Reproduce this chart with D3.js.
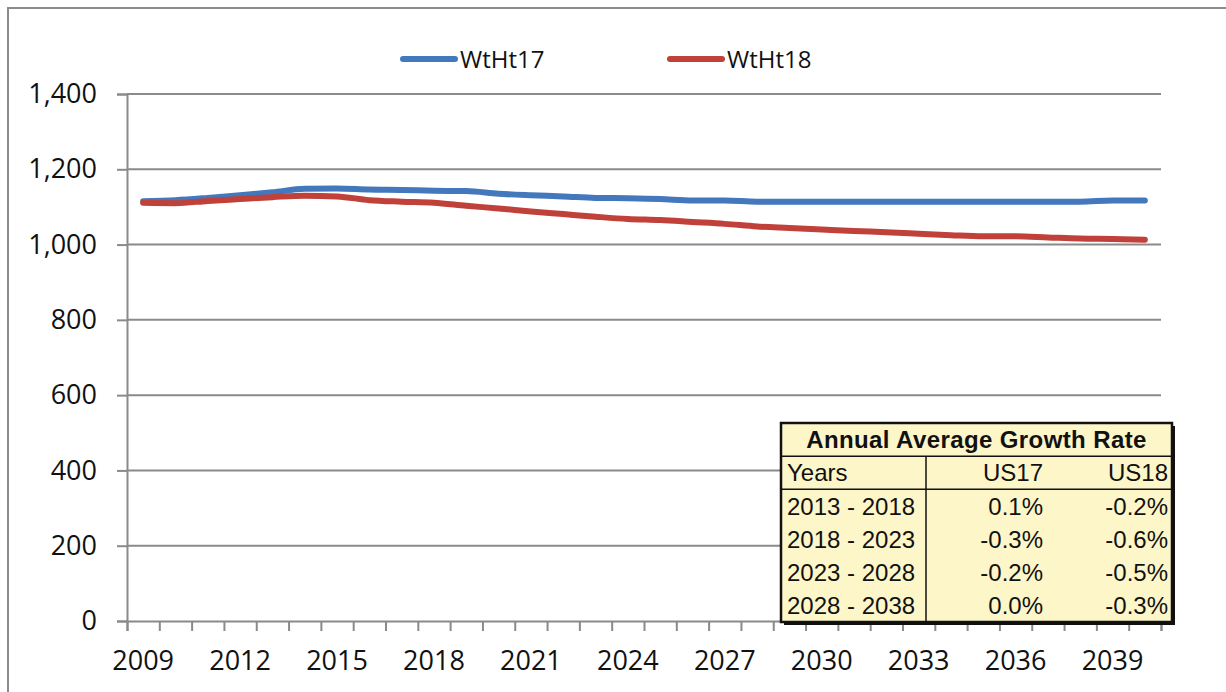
<!DOCTYPE html>
<html>
<head>
<meta charset="utf-8">
<script src="https://cdnjs.cloudflare.com/ajax/libs/d3/7.8.5/d3.min.js"></script>
<style>
  body { margin:0; background:#fff; }
  svg { display:block; }
</style>
</head>
<body>
<div id="chart-area"></div>
<script>
// data
var years = d3.range(2009, 2041);
var wtht17 = [1115,1118,1124,1131,1139,1148,1149,1146,1145,1143,1142,1135,1131,1128,1124,1123,
              1121,1117,1117,1114,1114,1114,1114,1114,1114,1114,1114,1114,1114,1114,1117,1117];
var wtht18 = [1111,1110,1116,1121,1126,1130,1128,1118,1114,1111,1103,1096,1088,1081,1074,1068,
              1065,1060,1055,1048,1044,1040,1036,1033,1029,1025,1022,1022,1019,1016,1015,1013];
var seriesNames = ["WtHt17", "WtHt18"];
var seriesColors = ["#4378bd", "#c0403a"];
var yTicks = [0, 200, 400, 600, 800, 1000, 1200, 1400];
var xLabels = [2009, 2012, 2015, 2018, 2021, 2024, 2027, 2030, 2033, 2036, 2039];

var tableTitle = "Annual Average Growth Rate";
var tableHeads = ["Years", "US17", "US18"];
var tablePeriods = ["2013 - 2018", "2018 - 2023", "2023 - 2028", "2028 - 2038"];
var us17Rates = ["0.1%", "-0.3%", "-0.2%", "0.0%"];
var us18Rates = ["-0.2%", "-0.6%", "-0.5%", "-0.3%"];

var W = 1226, H = 692;
var pLeft = 127, pRight = 1161, pTop = 94, pBottom = 621;

var svg = d3.select("#chart-area").append("svg")
	.attr("width", W)
	.attr("height", H);

// outer chart border
svg.append("rect")
	.attr("x", 8).attr("y", 8)
	.attr("width", W + 20).attr("height", H + 20)
	.attr("fill", "none")
	.attr("stroke", "#8c8c8c")
	.attr("stroke-width", 2);

var x = d3.scaleBand().domain(years).range([pLeft, pRight]).padding(0);
var xEdge = d3.scaleLinear().domain([0, years.length]).range([pLeft, pRight]);
var y = d3.scaleLinear().domain([0, 1400]).range([pBottom, pTop]);

var axisFont = "'Open Sans', sans-serif";

// gridlines
svg.append("g").selectAll("line")
	.data(yTicks.filter(function(d){ return d > 0; }))
	.enter().append("line")
		.attr("x1", pLeft).attr("x2", pRight)
		.attr("y1", function(d){ return y(d); })
		.attr("y2", function(d){ return y(d); })
		.attr("stroke", "#8a8a8a")
		.attr("stroke-width", 2);

// y axis
var yAxis = svg.append("g")
	.attr("transform", "translate(" + pLeft + ",0)")
	.call(d3.axisLeft(y).tickValues(yTicks).tickSize(10).tickPadding(20)
		.tickFormat(d3.format(",")));
yAxis.select(".domain").attr("stroke", "#8a8a8a").attr("stroke-width", 2);
yAxis.selectAll(".tick line").attr("stroke", "#8a8a8a").attr("stroke-width", 2);
yAxis.selectAll(".tick text")
	.attr("font-family", axisFont).attr("font-size", "27px").attr("fill", "#111");

// x axis: ticks between categories
var xTicks = svg.append("g")
	.attr("transform", "translate(0," + pBottom + ")")
	.call(d3.axisBottom(xEdge).tickValues(d3.range(0, years.length + 1)).tickSize(10).tickFormat(""));
xTicks.select(".domain").attr("stroke", "#8a8a8a").attr("stroke-width", 2);
xTicks.selectAll(".tick line").attr("stroke", "#8a8a8a").attr("stroke-width", 2);

var xLab = svg.append("g")
	.attr("transform", "translate(0," + pBottom + ")")
	.call(d3.axisBottom(x).tickValues(xLabels).tickSize(0).tickPadding(30));
xLab.select(".domain").remove();
xLab.selectAll(".tick text")
	.attr("font-family", axisFont).attr("font-size", "27px").attr("fill", "#111");

// lines
var line = d3.line()
	.x(function(d){ return x(d.year) + x.bandwidth() / 2; })
	.y(function(d){ return y(d.v); })
	.curve(d3.curveMonotoneX);

[wtht17, wtht18].forEach(function(vals, i){
	var pts = years.map(function(yr, j){ return {year: yr, v: vals[j]}; });
	svg.append("path")
		.datum(pts)
		.attr("d", line)
		.attr("fill", "none")
		.attr("stroke", seriesColors[i])
		.attr("stroke-width", 6)
		.attr("stroke-linecap", "round")
		.attr("stroke-linejoin", "round");
});

// legend
var legX = [403, 670];
seriesNames.forEach(function(n, i){
	svg.append("line")
		.attr("x1", legX[i]).attr("x2", legX[i] + 52)
		.attr("y1", 59).attr("y2", 59)
		.attr("stroke", seriesColors[i])
		.attr("stroke-width", 6)
		.attr("stroke-linecap", "round");
	svg.append("text")
		.attr("x", legX[i] + 57).attr("y", 68)
		.attr("font-family", axisFont).attr("font-size", "24px")
		.attr("fill", "#111")
		.text(n);
});

// growth table
var tL = 781, tR = 1172, tT = 423, tB = 622, tMid = 926;
var row = d3.scaleBand().domain(d3.range(6)).range([tT, tB]);
var tFont = "'Liberation Sans', Arial, sans-serif";

svg.append("rect")
	.attr("x", tL + 3).attr("y", tT + 3)
	.attr("width", tR - tL).attr("height", tB - tT)
	.attr("fill", "#111");
svg.append("rect")
	.attr("x", tL).attr("y", tT)
	.attr("width", tR - tL).attr("height", tB - tT)
	.attr("fill", "#fdf6c9")
	.attr("stroke", "#111")
	.attr("stroke-width", 2.5);

[1, 2].forEach(function(r){
	svg.append("line")
		.attr("x1", tL).attr("x2", tR)
		.attr("y1", row(r)).attr("y2", row(r))
		.attr("stroke", "#111").attr("stroke-width", 1.5);
});
svg.append("line")
	.attr("x1", tMid).attr("x2", tMid)
	.attr("y1", row(1)).attr("y2", tB)
	.attr("stroke", "#111").attr("stroke-width", 1.5);

svg.append("text")
	.attr("x", (tL + tR) / 2).attr("y", row(0) + row.bandwidth() / 2)
	.attr("dy", "0.36em")
	.attr("text-anchor", "middle")
	.attr("font-family", tFont).attr("font-size", "24px").attr("font-weight", "bold")
	.attr("letter-spacing", "0.4px")
	.attr("fill", "#111")
	.text(tableTitle);

var colX = [787, 1043, 1168];
var colAnchor = ["start", "end", "end"];
var rows = [tableHeads].concat(tablePeriods.map(function(p, i){
	return [p, us17Rates[i], us18Rates[i]];
}));
rows.forEach(function(r, i){
	r.forEach(function(t, c){
		svg.append("text")
			.attr("x", colX[c])
			.attr("y", row(i + 1) + row.bandwidth() / 2)
			.attr("dy", "0.36em")
			.attr("text-anchor", colAnchor[c])
			.attr("font-family", tFont).attr("font-size", "24px")
			.attr("fill", "#111")
			.text(t);
	});
});
</script>
</body>
</html>
